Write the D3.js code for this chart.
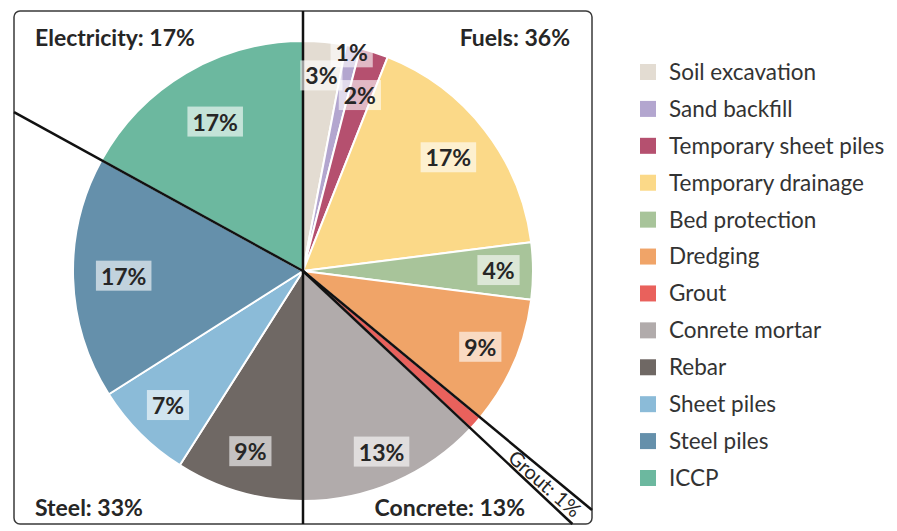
<!DOCTYPE html>
<html>
<head>
<meta charset="utf-8">
<script src="https://cdn.jsdelivr.net/npm/d3@7"></script>
<style>
  body { margin: 0; background: #fff; }
  svg { display: block; }
</style>
</head>
<body>
<svg id="chart"></svg>
<script>
// slices, clockwise from 12 o'clock
const categories = ["Soil excavation", "Sand backfill", "Temporary sheet piles", "Temporary drainage",
  "Bed protection", "Dredging", "Grout", "Conrete mortar", "Rebar", "Sheet piles", "Steel piles", "ICCP"];
const shares = [3, 1, 2, 17, 4, 9, 1, 13, 9, 7, 17, 17];
const colors = ["#e3dcd2", "#b3a6cf", "#b5506f", "#fbd988", "#a8c49a", "#f0a468",
  "#e9615c", "#b1abab", "#6f6864", "#8bbbd8", "#6590ab", "#6cb89f"];

// groups shown in the corners
const groupNames = ["Electricity", "Fuels", "Steel", "Concrete", "Grout"];
const groupShares = [17, 36, 33, 13, 1];

const width = 897;
const height = 531;
const cx = 303, cy = 271, radius = 230;
const box = {x: 14, y: 11, w: 578, h: 513};

// how far out each percent label sits (fraction of radius)
const labelPos = [0.85, 0.97, 0.80, 0.80, 0.85, 0.84, null, 0.86, 0.82, 0.83, 0.78, 0.75];

const svg = d3.select("#chart")
  .attr("width", width)
  .attr("height", height);

svg.append("rect")
  .attr("x", box.x).attr("y", box.y)
  .attr("width", box.w).attr("height", box.h)
  .attr("rx", 6)
  .attr("fill", "none")
  .attr("stroke", "#3a3a3a")
  .attr("stroke-width", 1.5);

const data = categories.map((c, i) => ({name: c, value: shares[i], color: colors[i], i: i}));

const pie = d3.pie().sort(null).value(d => d.value);
const arcs = pie(data);

const arc = d3.arc().innerRadius(0).outerRadius(radius);

const g = svg.append("g").attr("transform", `translate(${cx},${cy})`);

g.selectAll("path.slice")
  .data(arcs)
  .enter().append("path")
  .attr("class", "slice")
  .attr("d", arc)
  .attr("fill", d => d.data.color)
  .attr("stroke", "#fff")
  .attr("stroke-width", 2)
  .attr("stroke-linejoin", "round");

// black divider lines between groups, running out to the frame
function rayLength(angle) {
  const dx = Math.sin(angle), dy = -Math.cos(angle);
  let t = Infinity;
  if (dx > 0) t = Math.min(t, (box.x + box.w - cx) / dx);
  if (dx < 0) t = Math.min(t, (box.x - cx) / dx);
  if (dy > 0) t = Math.min(t, (box.y + box.h - cy) / dy);
  if (dy < 0) t = Math.min(t, (box.y - cy) / dy);
  return t;
}

// boundaries: 0, after Dredging, after Grout, after Concrete mortar, after Steel piles
const cuts = [0, arcs[5].endAngle, arcs[6].endAngle, arcs[7].endAngle, arcs[10].endAngle];
g.selectAll("line.cut")
  .data(cuts)
  .enter().append("line")
  .attr("class", "cut")
  .attr("x1", 0).attr("y1", 0)
  .attr("x2", a => Math.sin(a) * rayLength(a))
  .attr("y2", a => -Math.cos(a) * rayLength(a))
  .attr("stroke", "#111")
  .attr("stroke-width", 2.5);

// percent labels on translucent white boxes
const labels = g.selectAll("g.pct")
  .data(arcs.filter(d => labelPos[d.data.i] !== null))
  .enter().append("g")
  .attr("class", "pct")
  .attr("transform", d => {
    const k = labelPos[d.data.i] * radius;
    const c = d3.arc().innerRadius(k).outerRadius(k).centroid(d);
    return `translate(${c[0]},${c[1]})`;
  });

labels.append("text")
  .attr("text-anchor", "middle")
  .attr("dy", "0.35em")
  .attr("font-family", "Lato, sans-serif")
  .attr("font-weight", "bold")
  .attr("font-size", 23)
  .attr("fill", "#262626")
  .text(d => d.data.value + "%");

labels.each(function() {
  const t = d3.select(this).select("text");
  const b = t.node().getBBox();
  d3.select(this).insert("rect", "text")
    .attr("x", b.x - 5).attr("y", b.y - 1)
    .attr("width", b.width + 10).attr("height", b.height + 2)
    .attr("fill", "#fff")
    .attr("fill-opacity", 0.6);
});

// corner group labels
const corner = [
  {x: 35, y: 46, anchor: "start"},
  {x: 570, y: 46, anchor: "end"},
  {x: 35, y: 516, anchor: "start"},
  {x: 525, y: 516, anchor: "end"}
];
svg.selectAll("text.group")
  .data(groupNames.slice(0, 4))
  .enter().append("text")
  .attr("class", "group")
  .attr("x", (d, i) => corner[i].x)
  .attr("y", (d, i) => corner[i].y)
  .attr("text-anchor", (d, i) => corner[i].anchor)
  .attr("font-family", "Lato, sans-serif")
  .attr("font-weight", "bold")
  .attr("font-size", 23)
  .attr("fill", "#262626")
  .text((d, i) => d + ": " + groupShares[i] + "%");

// grout label inside the narrow band
const midGrout = (arcs[6].startAngle + arcs[6].endAngle) / 2;
const gr = 322;
const rot = midGrout * 180 / Math.PI - 90;
g.append("text")
  .attr("transform", `translate(${Math.sin(midGrout) * gr},${-Math.cos(midGrout) * gr}) rotate(${rot})`)
  .attr("text-anchor", "middle")
  .attr("dy", "0.35em")
  .attr("font-family", "Lato, sans-serif")
  .attr("font-size", 20)
  .attr("fill", "#262626")
  .text(groupNames[4] + ": " + groupShares[4] + "%");

// legend
const y = d3.scalePoint()
  .domain(categories)
  .range([72, 478]);

const legend = svg.append("g")
  .selectAll("g")
  .data(data)
  .enter().append("g")
  .attr("transform", d => `translate(640,${y(d.name)})`);

legend.append("rect")
  .attr("x", 0).attr("y", -8)
  .attr("width", 16).attr("height", 16)
  .attr("fill", d => d.color);

legend.append("text")
  .attr("x", 29)
  .attr("dy", "0.35em")
  .attr("font-family", "Lato, sans-serif")
  .attr("font-size", 22.5)
  .attr("fill", "#333")
  .text(d => d.name);
</script>
</body>
</html>
